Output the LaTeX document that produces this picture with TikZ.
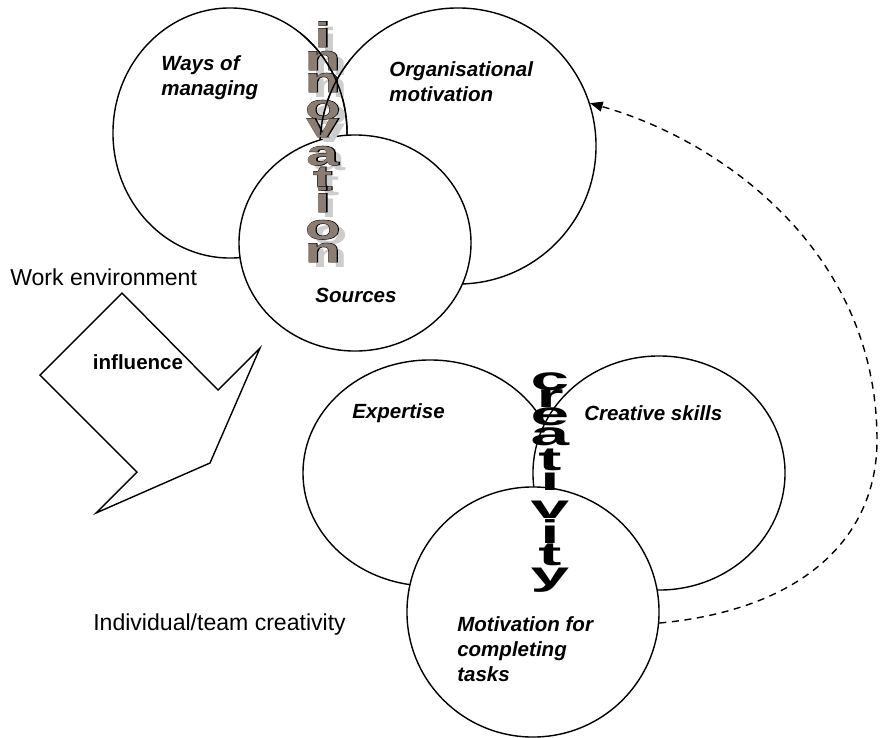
\documentclass[tikz,border=0pt]{standalone}
\usepackage{fontspec}
\setmainfont{Liberation Sans}
\usetikzlibrary{shapes.geometric}
\usetikzlibrary{arrows.meta}
\tikzset{blob/.style={ellipse,draw,line width=1pt,inner sep=0pt}}
\tikzset{lbl/.style={font=\fontsize{14.6}{17.8}\selectfont\bfseries\itshape,align=left,inner sep=0pt}}
\tikzset{txt/.style={font=\fontsize{16.4}{19}\selectfont,inner sep=0pt}}
\tikzset{>={Triangle[length=9pt,width=7pt]}}
\definecolor{innfill}{RGB}{140,125,115}
\definecolor{innshade}{RGB}{205,205,205}
\newcommand{\innfont}{\fontsize{24.9}{25}\selectfont\bfseries}
\newcommand{\crefont}{\fontsize{23.5}{24}\selectfont\bfseries}
\newcommand{\innchar}[1]{\scalebox{1.65}[1]{\rlap{\addfontfeature{FakeBold=2.5}#1}\textcolor{innfill}{#1}}}
\newcommand{\shadechar}[1]{\scalebox{1.65}[1]{\textcolor{innshade}{#1}}}
\newcommand{\crechar}[1]{\scalebox{2.1}[1]{#1}}

\begin{document}
\begin{tikzpicture}[x=0.025cm,y=-0.025cm]
    \useasboundingbox (0,0) rectangle (881,737);
    \node[blob,fill=white,minimum width=5.85cm,minimum height=6.25cm] (Ways) at (230,133) {};
    \node[blob,minimum width=6.9cm,minimum height=6.9cm] (Org) at (458,146) {};
    \node[blob,fill=white,minimum width=5.8cm,minimum height=5.4cm] (Src) at (355,243) {};
    \node[blob,fill=white,minimum width=6.35cm,minimum height=5.65cm] (Exp) at (430,473) {};
    \node[blob,fill=white,minimum width=6.3cm,minimum height=5.85cm] (Skill) at (659,473) {};
    \node[blob,fill=white,minimum width=6.3cm,minimum height=6.25cm] (Mot) at (533,612) {};
    \node[lbl,anchor=west] (WaysL) at (161,78) {Ways of\\managing};
    \node[lbl,anchor=west] (OrgL) at (389,82) {Organisational\\motivation};
    \node[lbl] (SrcL) at (356,295) {Sources};
    \node[lbl,anchor=west] (ExpL) at (352,413) {Expertise};
    \node[lbl,anchor=west] (SkillL) at (584,413) {Creative skills};
    \node[lbl,anchor=west] (MotL) at (457,649) {Motivation for\\completing\\tasks};
    \node[txt,anchor=west] (WorkL) at (10,277) {Work environment};
    \node[txt,anchor=west] (TeamL) at (93,625) {Individual/team creativity};
    \foreach \ch/\yy [count=\k] in {i/47,n/70,n/92,o/119,v/137,a/165,t/190,i/212,o/239,n/262}
        \node[anchor=base,inner sep=0pt,font=\innfont] (innS\k) at (330,\yy+5) {\shadechar{\ch}};
    \foreach \ch/\yy [count=\k] in {i/47,n/70,n/92,o/119,v/137,a/165,t/190,i/212,o/239,n/262}
        \node[anchor=base,inner sep=0pt,font=\innfont] (inn\k) at (323,\yy) {\innchar{\ch}};
    \begin{scope}
        \clip (300,20) rectangle (350,134);
        \draw[line width=1pt] (Ways.center) ellipse [x radius=117,y radius=125];
        \draw[line width=1pt] (Org.center) circle [radius=138];
    \end{scope}
    \foreach \ch/\yy [count=\k] in {c/390,r/407,e/425,a/445,t/470,i/490,v/518,i/543,t/565,y/585}
        \node[anchor=base,inner sep=0pt,font=\crefont] (cre\k) at (550,\yy) {\crechar{\ch}};
    \draw[line width=1pt] (122,293) -- (218,390) -- (260,348) -- (210,463) -- (96,513) -- (137,472) -- (40,375) -- cycle;
    \node[lbl,font=\fontsize{14.6}{17.8}\selectfont\bfseries] (InfL) at (138,362) {influence};
    \coordinate (Turn) at (877,440);
    \draw[line width=1pt,dash pattern=on 5pt off 4pt,->] (Mot.-5) .. controls (800,610) and (877,540) .. (Turn) .. controls (877,250) and (720,140) .. (Org.18);
\end{tikzpicture}
\end{document}
